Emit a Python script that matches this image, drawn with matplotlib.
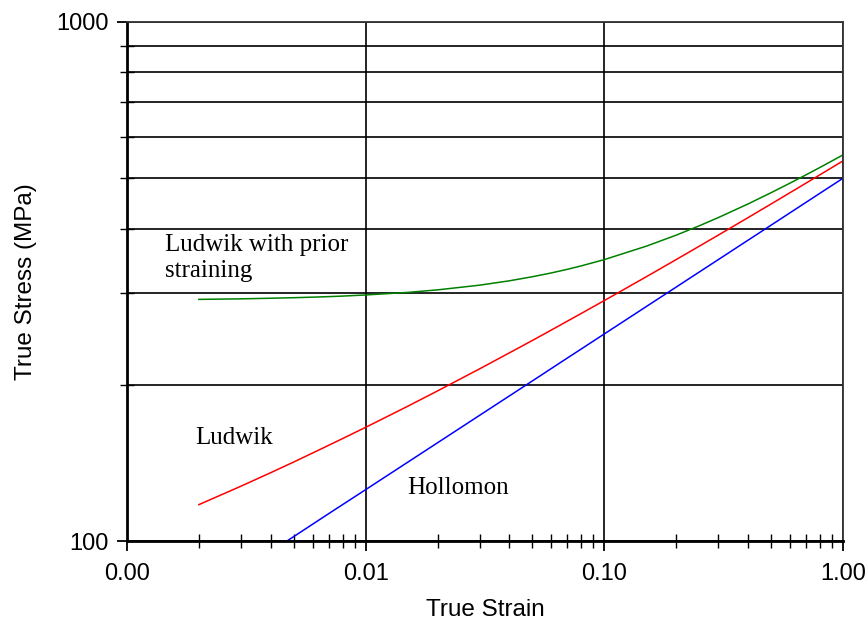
"""True stress vs true strain: Hollomon, Ludwik and Ludwik with prior straining."""
import matplotlib
matplotlib.use("Agg")
import matplotlib.pyplot as plt
from matplotlib.ticker import FixedLocator, NullFormatter, FixedFormatter

# values (log-log)
hollomon_strain = [0.004, 0.005, 0.007, 0.01, 0.02, 0.03, 0.05, 0.07, 0.1,
                   0.2, 0.3, 0.5, 0.7, 1.0]
hollomon_stress = [95.4, 102.0, 112.9, 125.6, 154.6, 174.6, 203.5, 225.2,
                   250.6, 308.5, 348.4, 406.1, 449.3, 500.0]

ludwik_strain = [0.002, 0.0025, 0.003, 0.004, 0.005, 0.006, 0.007, 0.008,
                 0.01, 0.015, 0.02, 0.03, 0.04, 0.05, 0.06, 0.07, 0.08,
                 0.1, 0.15, 0.2, 0.25, 0.3, 0.4, 0.5, 0.6, 0.7, 0.8, 1.0]
ludwik_stress = [117.5, 122.9, 127.5, 135.4, 142.0, 147.8, 152.9, 157.5,
                 165.6, 181.8, 194.6, 214.6, 230.4, 243.5, 255.0, 265.2, 274.4,
                 290.6, 323.0, 348.5, 369.9, 388.4, 419.8, 446.1, 469.0, 489.3,
                 507.6, 540.0]

prior_strain = [0.002, 0.0025, 0.003, 0.004, 0.005, 0.006, 0.007, 0.008,
                0.01, 0.015, 0.02, 0.03, 0.04, 0.05, 0.06, 0.07, 0.08,
                0.1, 0.15, 0.2, 0.25, 0.3, 0.4, 0.5, 0.6, 0.7, 0.8, 1.0]
prior_stress = [292.1, 292.5, 292.8, 293.6, 294.3, 295.0, 295.7, 296.4,
                297.9, 301.3, 304.7, 311.1, 317.2, 323.0, 328.5, 333.8, 338.9,
                348.5, 369.9, 388.4, 404.9, 419.8, 446.1, 469.0, 489.3, 507.6,
                524.4, 554.5]

x_major = [0.001, 0.01, 0.1, 1.0]
x_labels = ["0.00", "0.01", "0.10", "1.00"]
y_major = [100, 1000]
y_labels = ["100", "1000"]

plt.rcParams["font.family"] = ["Liberation Sans", "DejaVu Sans"]

fig = plt.figure(figsize=(8.65, 6.22), dpi=100)
ax = fig.add_axes([127 / 865, 1 - 541 / 622, (843 - 127) / 865, (541 - 22) / 622])

ax.set_xscale("log")
ax.set_yscale("log")
ax.set_xlim(0.001, 1.0)
ax.set_ylim(100, 1000)

ax.plot(hollomon_strain, hollomon_stress, color="#0000ff", lw=1.1)
ax.plot(ludwik_strain, ludwik_stress, color="#ff0000", lw=1.1)
ax.plot(prior_strain, prior_stress, color="#008000", lw=1.1)

ax.xaxis.set_major_locator(FixedLocator(x_major))
ax.xaxis.set_major_formatter(FixedFormatter(x_labels))
ax.yaxis.set_major_locator(FixedLocator(y_major))
ax.yaxis.set_major_formatter(FixedFormatter(y_labels))
ax.xaxis.set_minor_locator(FixedLocator(
    [m * d for d in (0.001, 0.01, 0.1) for m in range(2, 10)]))
ax.yaxis.set_minor_locator(FixedLocator([m * 100 for m in range(2, 10)]))
ax.xaxis.set_minor_formatter(NullFormatter())
ax.yaxis.set_minor_formatter(NullFormatter())

ax.tick_params(which="major", direction="out", length=7, width=1.3,
               labelsize=17, colors="black")
ax.tick_params(axis="x", which="major", pad=9)
ax.tick_params(axis="y", which="major", pad=6)
ax.tick_params(which="minor", direction="inout", length=10, width=1.0)

# grid: vertical at decades, horizontal at every hundred
ax.grid(True, axis="x", which="major", color="black", lw=1.2)
ax.grid(True, axis="y", which="minor", color="black", lw=1.2)
ax.grid(True, axis="y", which="major", color="black", lw=1.2)

for side in ("left", "bottom"):
    ax.spines[side].set_linewidth(2.0)
for side in ("right", "top"):
    ax.spines[side].set_linewidth(1.3)
    ax.spines[side].set_color("#333333")

ax.set_xlabel("True Strain", fontsize=17.5, labelpad=10)
ax.set_ylabel("True Stress (MPa)", fontsize=17.5, labelpad=14)

serif = ["Liberation Serif", "DejaVu Serif"]
ax.text(0.053, 0.546, "Ludwik with prior\nstraining", transform=ax.transAxes,
        family=serif, fontsize=18, va="center", ha="left", linespacing=1.25)
ax.text(0.095, 0.198, "Ludwik", transform=ax.transAxes,
        family=serif, fontsize=18, va="center", ha="left")
ax.text(0.392, 0.102, "Hollomon", transform=ax.transAxes,
        family=serif, fontsize=18, va="center", ha="left")

fig.savefig("out.png", dpi=100)
